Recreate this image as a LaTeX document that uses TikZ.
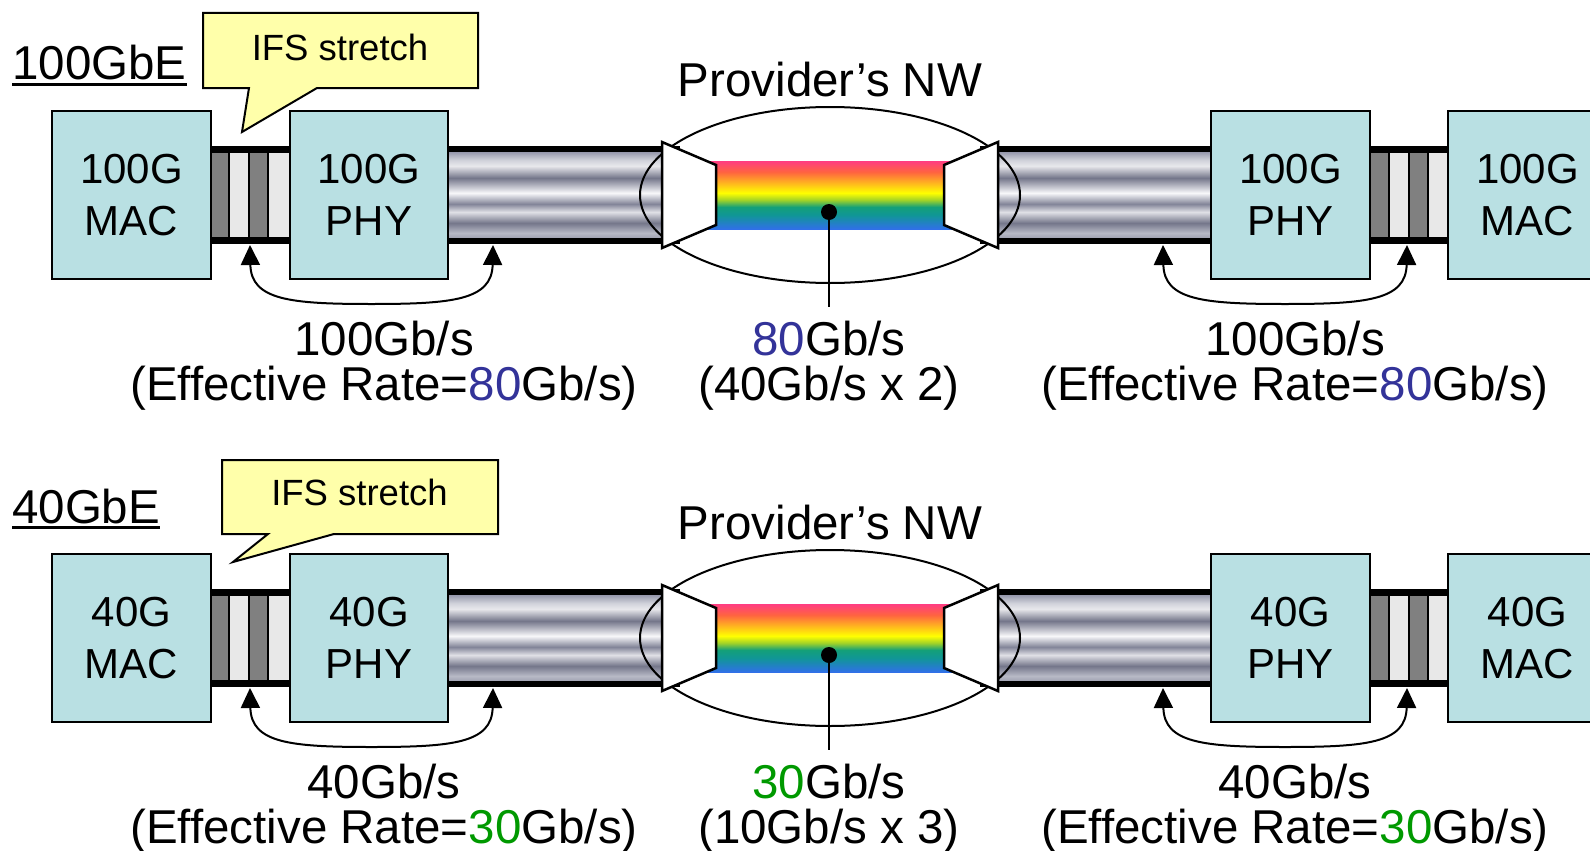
\documentclass[tikz,border=0pt]{standalone}
\usepackage{fontspec}
\setmainfont{Liberation Sans}
\usetikzlibrary{arrows.meta}
\definecolor{boxfill}{RGB}{185,224,227}
\definecolor{callfill}{RGB}{255,255,170}
\definecolor{eblue}{RGB}{51,51,153}
\definecolor{egreen}{RGB}{0,153,0}
\definecolor{sdark}{RGB}{128,128,128}
\definecolor{slight}{RGB}{232,232,232}
\definecolor{tA}{RGB}{160,162,178}
\definecolor{tB}{RGB}{184,186,198}
\definecolor{tC}{RGB}{116,118,138}
\definecolor{tD}{RGB}{224,224,230}
\definecolor{tE}{RGB}{130,132,152}
\definecolor{tF}{RGB}{248,248,250}
\definecolor{tG}{RGB}{116,118,138}
\definecolor{tH}{RGB}{232,232,236}
\definecolor{tI}{RGB}{208,210,218}
\definecolor{tJ}{RGB}{150,152,172}
\definecolor{rA}{RGB}{48,112,232}
\definecolor{rB}{RGB}{16,150,150}
\definecolor{rC}{RGB}{20,160,120}
\definecolor{rD}{RGB}{160,210,40}
\definecolor{rE}{RGB}{255,255,0}
\definecolor{rF}{RGB}{255,160,40}
\definecolor{rG}{RGB}{255,100,64}
\definecolor{rH}{RGB}{255,60,130}
\pgfdeclareverticalshading{tubeshade}{100bp}{color(0bp)=(tA); color(25bp)=(tA); color(27.9bp)=(tB); color(33.7bp)=(tC); color(40.1bp)=(tD); color(44.8bp)=(tE); color(51.2bp)=(tF); color(59.9bp)=(tG); color(66.9bp)=(tH); color(70.3bp)=(tI); color(75bp)=(tJ); color(100bp)=(tJ)}
\pgfdeclareverticalshading{rainbowshade}{100bp}{color(0bp)=(rA); color(25bp)=(rA); color(35.3bp)=(rB); color(41.2bp)=(rC); color(46.3bp)=(rD); color(51.5bp)=(rE); color(61bp)=(rF); color(66.9bp)=(rG); color(75bp)=(rH); color(100bp)=(rH)}
\tikzset{
  blk/.style={draw, fill=boxfill, line width=2pt, minimum width=159pt, minimum height=168pt, inner sep=0pt, align=center, font=\fontsize{42}{52}\selectfont},
  lbl/.style={anchor=base, inner sep=0pt, font=\fontsize{47.5}{50}\selectfont},
  ttl/.style={anchor=base west, inner sep=0pt, font=\fontsize{47.5}{50}\selectfont},
  cotext/.style={anchor=base, inner sep=0pt, font=\fontsize{36.5}{40}\selectfont},
  callout/.style={draw, fill=callfill, line width=2pt, line join=miter},
  stripedark/.style={fill=sdark, draw=black, line width=1.5pt},
  stripelight/.style={fill=slight, draw=black, line width=1.5pt},
  trap/.style={fill=white, draw=black, line width=2.5pt, line join=miter},
  arr/.style={line width=2pt, {Triangle[width=19pt,length=20pt]}-{Triangle[width=19pt,length=20pt]}},
}
\newcommand\ethrow[6]{%
\begin{scope}[shift={(0,#2)}]
  % tubes
  \fill[shading=tubeshade] (448,152) rectangle (680,238);
  \fill[black] (448,146) rectangle (680,152);
  \fill[black] (448,238) rectangle (680,244);
  \fill[shading=tubeshade] (980,152) rectangle (1211,238);
  \fill[black] (980,146) rectangle (1211,152);
  \fill[black] (980,238) rectangle (1211,244);
  % left stripes
  \fill[black] (211,146) rectangle (290,152);
  \fill[black] (211,238) rectangle (290,244);
  \filldraw[stripedark] (211,152) rectangle (229,238);
  \filldraw[stripelight] (229,152) rectangle (249,238);
  \filldraw[stripedark] (249,152) rectangle (268,238);
  \filldraw[stripelight] (268,152) rectangle (290,238);
  % right stripes
  \fill[black] (1370,146) rectangle (1447,152);
  \fill[black] (1370,238) rectangle (1447,244);
  \filldraw[stripedark] (1370,152) rectangle (1389,238);
  \filldraw[stripelight] (1389,152) rectangle (1409,238);
  \filldraw[stripedark] (1409,152) rectangle (1428,238);
  \filldraw[stripelight] (1428,152) rectangle (1448,238);
  % provider network
  \draw[line width=2pt] (830,195) ellipse [x radius=190, y radius=88];
  \fill[shading=rainbowshade] (705,161) rectangle (955,229);
  \filldraw[trap] (662,142) -- (716,165) -- (716,225) -- (662,248) -- cycle;
  \filldraw[trap] (998,142) -- (944,165) -- (944,225) -- (998,248) -- cycle;
  \node[circle, fill=black, inner sep=0pt, minimum size=16pt] (#1dot) at (829,212) {};
  \coordinate (#1lblpt) at (829,307);
  \draw[line width=2pt] (#1dot.center) -- (#1lblpt);
  % boxes
  \node[blk] (#1lmac) at (131.5,195) {#3\\MAC};
  \node[blk, minimum width=158pt] (#1lphy) at (369,195) {#3\\PHY};
  \node[blk] (#1rphy) at (1290.5,195) {#3\\PHY};
  \node[blk] (#1rmac) at (1527.5,195) {#3\\MAC};
  % arrows
  \coordinate (#1la) at (250,245);
  \coordinate (#1lb) at (493,245);
  \coordinate (#1ra) at (1163,245);
  \coordinate (#1rb) at (1407,245);
  \draw[arr] (#1la) .. controls (251,300) and (290,304) .. (371.5,304) .. controls (453,304) and (492,300) .. (#1lb);
  \draw[arr] (#1ra) .. controls (1164,300) and (1203,304) .. (1285,304) .. controls (1367,304) and (1406,300) .. (#1rb);
  % labels
  \node[lbl] (#1pnw) at (830,96) {Provider’s NW};
  \node[lbl] (#1l1) at (384,355) {#4};
  \node[lbl] (#1l2) at (384,400) {(Effective Rate=#5Gb/s)};
  \node[lbl] (#1c1) at (829,355) {#5Gb/s};
  \node[lbl] (#1c2) at (829,400) {#6};
  \node[lbl] (#1r1) at (1295,355) {#4};
  \node[lbl] (#1r2) at (1295,400) {(Effective Rate=#5Gb/s)};
\end{scope}}
\begin{document}
\begin{tikzpicture}[x=1pt, y=-1pt]
\useasboundingbox[fill=white] (0,0) rectangle (1590,851);
\ethrow{a}{0}{100G}{100Gb/s}{\textcolor{eblue}{80}}{(40Gb/s x 2)}
\ethrow{b}{443}{40G}{40Gb/s}{\textcolor{egreen}{30}}{(10Gb/s x 3)}
% titles
\node[ttl] (t100) at (12,80) {100GbE};
\draw[line width=3pt] ([yshift=-4pt]t100.base west) -- ([yshift=-4pt]t100.base east);
\node[ttl] (t40) at (12,523) {40GbE};
\draw[line width=3pt] ([yshift=-4pt]t40.base west) -- ([yshift=-4pt]t40.base east);
% callouts
\draw[callout] (203,13) -- (478,13) -- (478,88) -- (317,88) -- (242,132) -- (249,88) -- (203,88) -- cycle;
\node[cotext] (ifsa) at (340,60) {IFS stretch};
\draw[callout] (222,460) -- (498,460) -- (498,534) -- (334,534) -- (233,562) -- (268,534) -- (222,534) -- cycle;
\node[cotext] (ifsb) at (359.5,505) {IFS stretch};
\end{tikzpicture}
\end{document}
